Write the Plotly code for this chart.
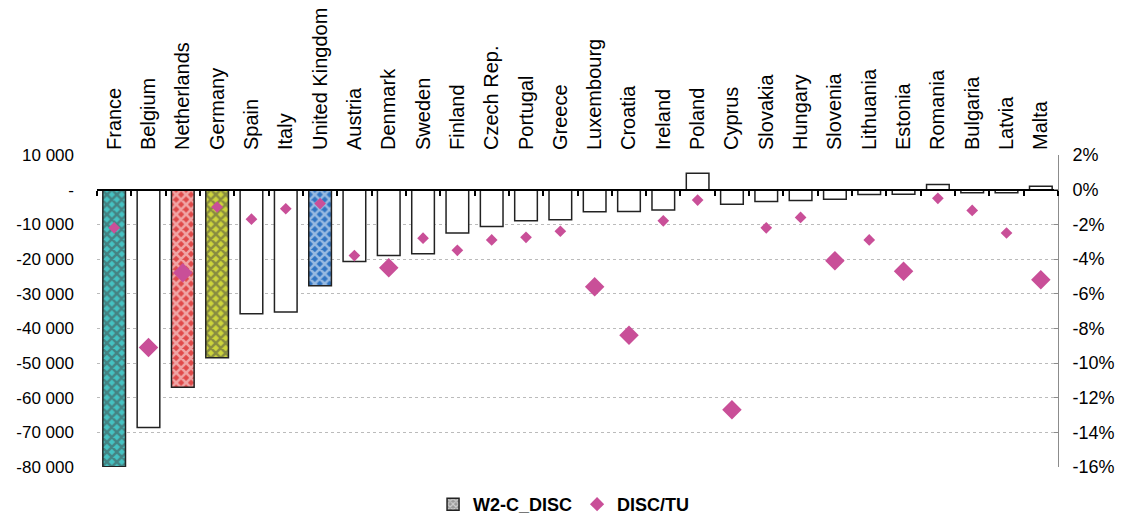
import plotly.graph_objects as go

countries = ["France", "Belgium", "Netherlands", "Germany", "Spain", "Italy", "United Kingdom",
             "Austria", "Denmark", "Sweden", "Finland", "Czech Rep.", "Portugal", "Greece",
             "Luxembourg", "Croatia", "Ireland", "Poland", "Cyprus", "Slovakia", "Hungary",
             "Slovenia", "Lithuania", "Estonia", "Romania", "Bulgaria", "Latvia", "Malta"]

w2c_disc = [-79900, -68600, -57000, -48500, -35800, -35300, -27700,
            -20700, -19000, -18500, -12500, -10600, -9000, -8700,
            -6400, -6300, -5900, 4700, -4200, -3400, -3100,
            -2800, -1400, -1300, 1500, -900, -900, 1000]

disc_tu = [-0.022, -0.091, -0.048, -0.010, -0.017, -0.011, -0.008,
           -0.038, -0.045, -0.028, -0.035, -0.029, -0.0275, -0.024,
           -0.056, -0.084, -0.018, -0.006, -0.127, -0.022, -0.016,
           -0.041, -0.029, -0.047, -0.005, -0.012, -0.025, -0.052]

highlight = {"France": "#45C2C2", "Netherlands": "#E04A4A", "Germany": "#CDD43C",
             "United Kingdom": "#3074C2"}
large_points = {"Belgium", "Netherlands", "Denmark", "Luxembourg", "Croatia", "Cyprus",
                "Slovenia", "Estonia", "Malta"}

left_ticks = [10000, 0, -10000, -20000, -30000, -40000, -50000, -60000, -70000, -80000]
left_text = ["10 000", "-", "-10 000", "-20 000", "-30 000", "-40 000", "-50 000",
             "-60 000", "-70 000", "-80 000"]
right_ticks = [0.02, 0, -0.02, -0.04, -0.06, -0.08, -0.10, -0.12, -0.14, -0.16]
right_text = ["2%", "0%", "-2%", "-4%", "-6%", "-8%", "-10%", "-12%", "-14%", "-16%"]

FONT = "Liberation Sans, Arial, sans-serif"
PINK = "#C94F98"

bar_colors = [highlight.get(c, "white") for c in countries]
shapes = ["x" if c in highlight else "" for c in countries]
sizes = [15 if c in large_points else 9 for c in countries]

fig = go.Figure()

# legend-only swatch for the bar series
fig.add_trace(go.Bar(
    x=[None], y=[None], name="W2-C_DISC", xaxis="x", yaxis="y",
    marker=dict(color="#9A9A9A", line=dict(color="#222", width=1.5),
                pattern=dict(shape="x", fgcolor="white", size=5, solidity=0.5,
                             fillmode="overlay")),
))

fig.add_trace(go.Bar(
    x=countries, y=w2c_disc, name="W2-C_DISC", showlegend=False,
    xaxis="x", yaxis="y", width=0.66,
    marker=dict(color=bar_colors, line=dict(color="#222", width=1.5),
                pattern=dict(shape=shapes, fgcolor="white", size=7, solidity=0.6,
                             fillmode="overlay")),
))

fig.add_trace(go.Scatter(
    x=countries, y=disc_tu, name="DISC/TU", mode="markers",
    xaxis="x2", yaxis="y2",
    marker=dict(symbol="diamond", color=PINK, size=sizes, opacity=1, line=dict(width=0)),
))

fig.update_layout(
    width=1125, height=520,
    margin=dict(l=97, r=67, t=155, b=53, autoexpand=False),
    paper_bgcolor="white", plot_bgcolor="white",
    font=dict(family=FONT, size=17, color="black"),
    barmode="overlay",
    showlegend=True,
    legend=dict(orientation="h", x=0.486, xanchor="center", y=-0.12, yanchor="middle",
                font=dict(family=FONT, size=18, color="black", weight="bold"),
                itemwidth=30, tracegroupgap=0),
    xaxis=dict(
        type="category", side="top", tickangle=-90, showline=False, ticks="",
        showgrid=False, zeroline=False, tickfont=dict(family=FONT, size=20),
        ticklabelstandoff=4, domain=[0, 1], range=[-0.5, 27.5], automargin=False,
    ),
    xaxis2=dict(
        type="category", overlaying="x", anchor="free", position=80 / 90, side="bottom",
        showline=True, linecolor="black", linewidth=2,
        ticks="outside", ticklen=5, tickwidth=1.5, tickcolor="black",
        tickson="boundaries", showticklabels=False, showgrid=False, zeroline=False,
        range=[-0.5, 27.5], automargin=False,
    ),
    yaxis=dict(
        range=[-80000, 10000], tickvals=left_ticks, ticktext=left_text,
        showgrid=True, gridcolor="#BBBBBB", griddash="dot", gridwidth=1,
        zeroline=False, showline=False, ticks="", ticklabelstandoff=22,
        tickfont=dict(family=FONT, size=17), automargin=False,
    ),
    yaxis2=dict(
        overlaying="y", side="right", anchor="free", position=1.0,
        range=[-0.16, 0.02], tickvals=right_ticks, ticktext=right_text,
        showgrid=False, zeroline=False, showline=True, linecolor="#8C8C8C", linewidth=1,
        ticks="inside", ticklen=4, tickcolor="#8C8C8C", ticklabelstandoff=10,
        tickfont=dict(family=FONT, size=18), automargin=False,
    ),
)

fig.write_html("out.html")
